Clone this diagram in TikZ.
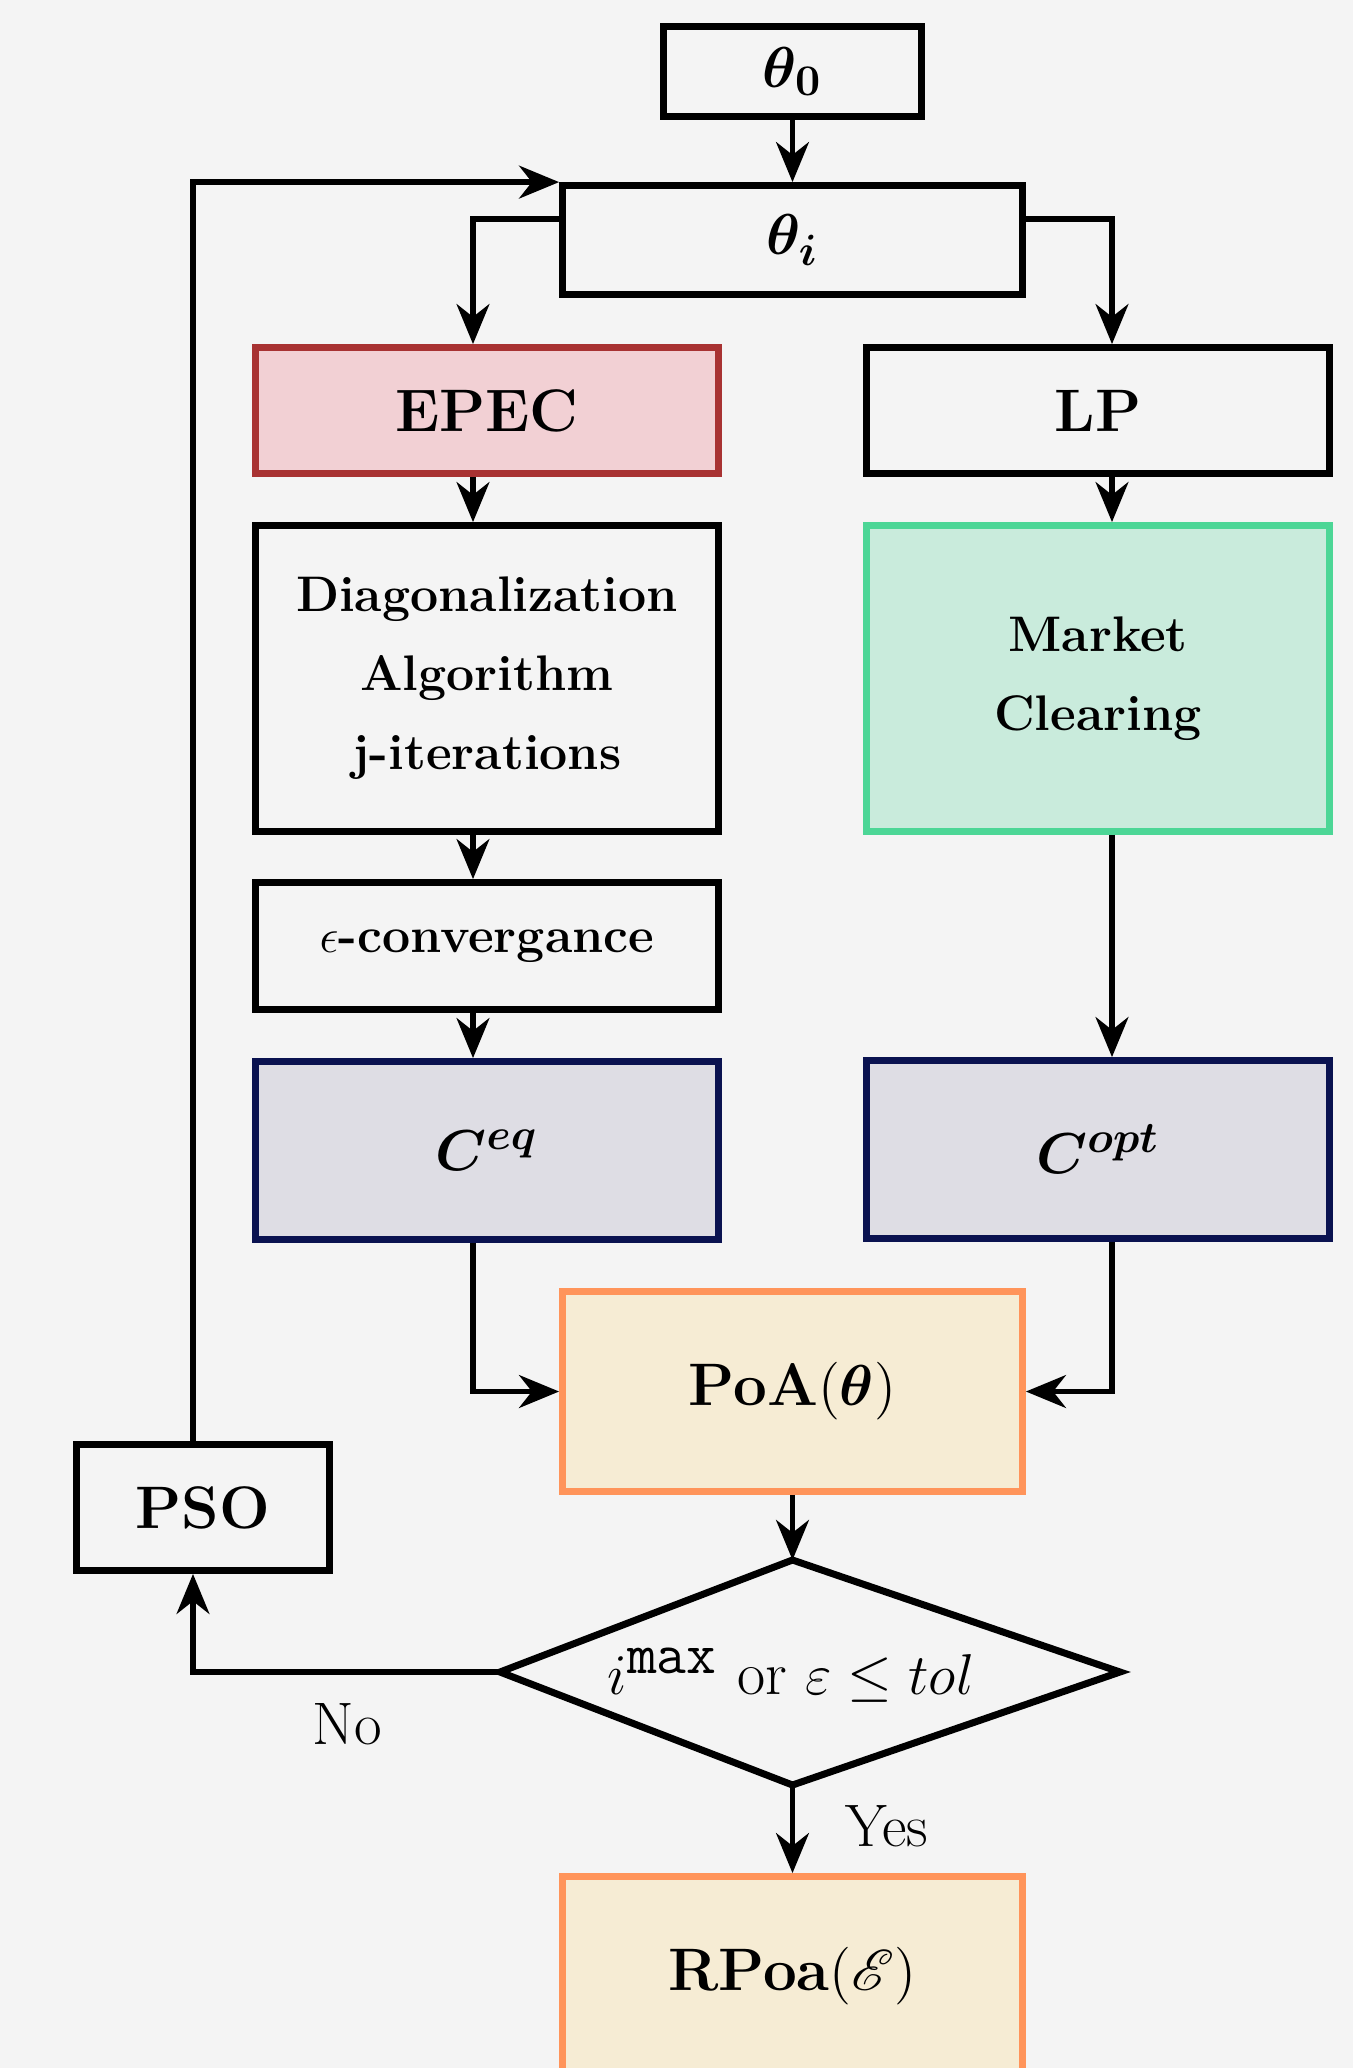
\documentclass[tikz,border=0pt]{standalone}
\usepackage{amsmath,amssymb,bm,mathrsfs}
\usetikzlibrary{arrows.meta,calc}
\definecolor{bgc}{HTML}{F4F4F4}
\definecolor{epecf}{HTML}{F2D0D4}
\definecolor{epecb}{HTML}{A83232}
\definecolor{mcf}{HTML}{C9EBDC}
\definecolor{mcb}{HTML}{4CD696}
\definecolor{cf}{HTML}{DEDDE4}
\definecolor{cb}{HTML}{0A1250}
\definecolor{pf}{HTML}{F6ECD4}
\definecolor{pb}{HTML}{FF945A}
\tikzset{
  flowbox/.style={draw=black,line width=1.75pt,inner sep=0pt,align=center},
  bigtxt/.style={font=\fontsize{15}{18}\selectfont\bfseries},
  smalltxt/.style={font=\fontsize{12.5}{19.75}\selectfont\bfseries},
  lbltxt/.style={font=\fontsize{15}{18}\selectfont},
  dectxt/.style={font=\fontsize{15.3}{18}\selectfont},
  flowarr/.style={line width=1.4pt,-{Stealth[length=10pt,width=8.2pt,inset=3.2pt]}},
  widebox/.style={minimum width=114.95pt},
  colbox/.style={minimum width=115.7pt},
  epecst/.style={draw=epecb,fill=epecf},
  mcst/.style={draw=mcb,fill=mcf},
  costst/.style={draw=cb,fill=cf},
  poast/.style={draw=pb,fill=pf}
}
\begin{document}
\begin{tikzpicture}[x=0.25pt,y=-0.25pt]
\fill[bgc] (0,0) rectangle (1353,2068);
\useasboundingbox (0,0) rectangle (1353,2068);
\node[flowbox,bigtxt,minimum width=64.45pt,minimum height=22.45pt] (t0) at (792.5,71.5) {$\boldsymbol{\theta}_{\boldsymbol{0}}$};
\node[flowbox,bigtxt,widebox,minimum height=27.2pt] (ti) at (792.5,240) {$\boldsymbol{\theta}_{\boldsymbol{i}}$};
\node[flowbox,bigtxt,colbox,epecst,minimum height=31.45pt] (epec) at (487,410.5) {EPEC};
\node[flowbox,bigtxt,colbox,minimum height=31.45pt] (lp) at (1098,410.5) {LP};
\node[flowbox,smalltxt,colbox,minimum height=76.45pt] (diag) at (487,678.5) {Diagonalization\\Algorithm\\j-iterations};
\node[flowbox,smalltxt,colbox,mcst,minimum height=76.45pt] (mc) at (1098,678.5) {Market\\Clearing};
\node[flowbox,smalltxt,colbox,minimum height=31.7pt] (eps) at (487,946) {$\epsilon$-convergance};
\node[flowbox,bigtxt,colbox,costst,minimum height=44.45pt] (ceq) at (487,1150.5) {$\boldsymbol{C^{eq}}$};
\node[flowbox,bigtxt,colbox,costst,minimum height=44.45pt] (copt) at (1098,1149.5) {$\boldsymbol{C^{opt}}$};
\node[flowbox,bigtxt,widebox,poast,minimum height=49.95pt] (poa) at (792.5,1391.5) {PoA$(\boldsymbol{\theta})$};
\node[flowbox,bigtxt,minimum width=63.2pt,minimum height=31.45pt] (pso) at (203,1507.5) {PSO};
\node[flowbox,bigtxt,widebox,poast,minimum height=49.95pt] (rpoa) at (792.5,1976.5) {RPoa$(\mathscr{E})$};
\coordinate (dL) at (500,1672);
\coordinate (dT) at (792.5,1560);
\coordinate (dR) at (1120,1672);
\coordinate (dB) at (792.5,1785);
\draw[line width=1.75pt] (dL) -- (dT) -- (dR) -- (dB) -- cycle;
\node[dectxt,anchor=base] (dec) at (791,1694) {$i^{\hbox{\fontsize{14.5}{15}\selectfont\ttfamily max}}$ or $\varepsilon \leq tol$};
\coordinate (eTop) at (473,219);
\coordinate (lTop) at (1112,219);
\coordinate (lc) at (473,0);
\coordinate (rc) at (1112,0);
\coordinate (loopc) at (193,0);
\draw[flowarr] (t0.south) -- (ti.north);
\draw[flowarr] (ti.west |- eTop) -- (eTop) -- (eTop |- epec.north);
\draw[flowarr] (ti.east |- lTop) -- (lTop) -- (lTop |- lp.north);
\draw[flowarr] (lc |- epec.south) -- (lc |- diag.north);
\draw[flowarr] (lc |- diag.south) -- (lc |- eps.north);
\draw[flowarr] (lc |- eps.south) -- (lc |- ceq.north);
\draw[flowarr] (rc |- lp.south) -- (rc |- mc.north);
\draw[flowarr] (rc |- mc.south) -- (rc |- copt.north);
\draw[flowarr] (lc |- ceq.south) |- (poa.west);
\draw[flowarr] (rc |- copt.south) |- (poa.east);
\draw[flowarr] (poa.south) -- (dT);
\draw[flowarr] (dL) -| (loopc |- pso.south);
\draw[flowarr] (loopc |- pso.north) |- (ti.north west);
\draw[flowarr] (dB) -- (rpoa.north);
\node[lbltxt] (no) at (347,1724) {No};
\node[lbltxt] (yes) at (887,1826) {Yes};
\end{tikzpicture}
\end{document}
